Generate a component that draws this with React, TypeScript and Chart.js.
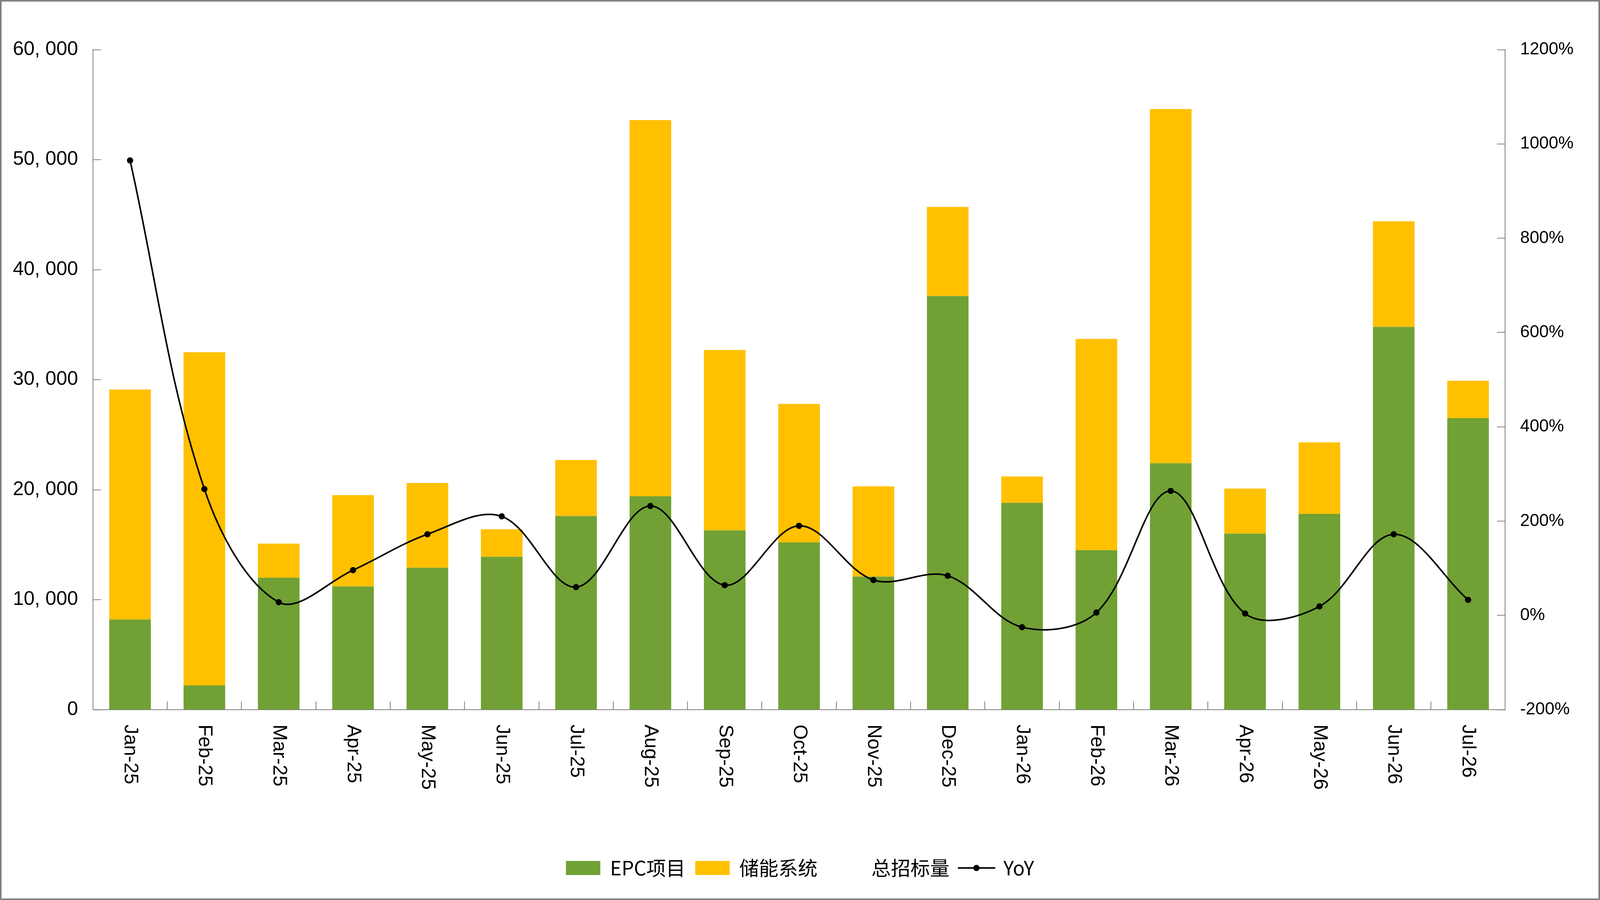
import React, { useEffect, useRef } from 'react';
import { Chart, registerables } from 'chart.js';

Chart.register(...registerables);

const categories = ['Jan-25', 'Feb-25', 'Mar-25', 'Apr-25', 'May-25', 'Jun-25', 'Jul-25', 'Aug-25', 'Sep-25', 'Oct-25', 'Nov-25', 'Dec-25', 'Jan-26', 'Feb-26', 'Mar-26', 'Apr-26', 'May-26', 'Jun-26', 'Jul-26'];
const epcValues = [8200, 2200, 12000, 11200, 12900, 13900, 17600, 19400, 16300, 15200, 12100, 37600, 18800, 14500, 22400, 16000, 17800, 34800, 26500];
const storageValues = [20900, 30300, 3100, 8300, 7700, 2500, 5100, 34200, 16400, 12600, 8200, 8100, 2400, 19200, 32200, 4100, 6500, 9600, 3400];
const totalValues = [29100, 32500, 15100, 19500, 20600, 16400, 22700, 53600, 32700, 27800, 20300, 45700, 21200, 33700, 54600, 20100, 24300, 44400, 29900];
const yoyValues = [965, 268, 28, 96, 172, 210, 60, 232, 64, 190, 75, 84, -25, 6, 264, 4, 19, 172, 33];
const leftTickLabels = ['0', '10, 000', '20, 000', '30, 000', '40, 000', '50, 000', '60, 000'];
const rightTickLabels = ['-200%', '0%', '200%', '400%', '600%', '800%', '1000%', '1200%'];
const seriesNames = ['EPC项目', '储能系统', '总招标量', 'YoY'];

const GREEN = '#71A135';
const YELLOW = '#FFC000';
const AXIS = '#808080';
const LATIN = '"Liberation Sans", Arial, sans-serif';
const CJK = '"Noto Sans CJK SC", "Noto Sans", sans-serif';
const REF_W = 4238;

function makeYoyLegendIcon(): HTMLCanvasElement {
  const c = document.createElement('canvas');
  c.width = 96;
  c.height = 20;
  const g = c.getContext('2d')!;
  g.strokeStyle = '#000';
  g.lineWidth = 4;
  g.beginPath();
  g.moveTo(0, 10);
  g.lineTo(96, 10);
  g.stroke();
  g.fillStyle = '#000';
  g.beginPath();
  g.arc(48, 10, 8, 0, Math.PI * 2);
  g.fill();
  return c;
}

const xLabelPlugin = {
  id: 'rotatedXLabels',
  afterDraw(chart: any) {
    const { ctx, chartArea, scales } = chart;
    const xs = scales.x;
    ctx.save();
    ctx.font = `50px ${LATIN}`;
    ctx.fillStyle = '#000';
    ctx.textAlign = 'left';
    ctx.textBaseline = 'middle';
    categories.forEach((label, i) => {
      const x = xs.getPixelForValue(i);
      ctx.save();
      ctx.translate(x, chartArea.bottom + 38);
      ctx.rotate(Math.PI / 2);
      ctx.fillText(label, 0, 0);
      ctx.restore();
    });
    ctx.restore();
  },
};

export default function App() {
  const canvasRef = useRef<HTMLCanvasElement | null>(null);

  useEffect(() => {
    if (!canvasRef.current) return;
    const yoyIcon = makeYoyLegendIcon();
    const sx = (scale: any) => (scale.chart.width + 8) / REF_W;
    const chart = new Chart(canvasRef.current, {
      type: 'bar',
      data: {
        labels: categories,
        datasets: [
          {
            type: 'bar',
            label: seriesNames[0],
            data: epcValues,
            backgroundColor: GREEN,
            yAxisID: 'y',
            stack: 'bars',
            barPercentage: 0.56,
            categoryPercentage: 1,
            order: 2,
          },
          {
            type: 'bar',
            label: seriesNames[1],
            data: storageValues,
            backgroundColor: YELLOW,
            yAxisID: 'y',
            stack: 'bars',
            barPercentage: 0.56,
            categoryPercentage: 1,
            order: 2,
          },
          {
            type: 'line',
            label: seriesNames[2],
            data: totalValues,
            yAxisID: 'y',
            stack: 'total',
            showLine: false,
            pointRadius: 0,
            borderColor: 'rgba(0,0,0,0)',
            backgroundColor: 'rgba(0,0,0,0)',
            order: 1,
          },
          {
            type: 'line',
            label: seriesNames[3],
            data: yoyValues,
            yAxisID: 'y1',
            borderColor: '#000',
            backgroundColor: '#000',
            borderWidth: 4,
            pointRadius: 8,
            pointBorderWidth: 0,
            pointBackgroundColor: '#000',
            tension: 0.35,
            order: 0,
          },
        ] as any,
      },
      options: {
        animation: false,
        responsive: true,
        maintainAspectRatio: false,
        layout: { padding: { left: 0, right: 0, top: 123, bottom: 43 } },
        plugins: {
          tooltip: { enabled: false },
          legend: {
            display: true,
            position: 'bottom',
            labels: {
              usePointStyle: true,
              pointStyleWidth: 88,
              boxHeight: 36,
              padding: 25,
              color: '#000',
              font: { size: 50, family: CJK },
              generateLabels: () => [
                { text: seriesNames[0], fillStyle: GREEN, strokeStyle: GREEN, lineWidth: 0, pointStyle: 'rect', hidden: false, datasetIndex: 0, fontColor: '#000' },
                { text: seriesNames[1], fillStyle: YELLOW, strokeStyle: YELLOW, lineWidth: 0, pointStyle: 'rect', hidden: false, datasetIndex: 1, fontColor: '#000' },
                { text: seriesNames[2], fillStyle: 'rgba(0,0,0,0)', strokeStyle: 'rgba(0,0,0,0)', lineWidth: 0, pointStyle: 'rect', hidden: false, datasetIndex: 2, fontColor: '#000' },
                { text: seriesNames[3], fillStyle: '#000', strokeStyle: '#000', lineWidth: 0, pointStyle: yoyIcon, hidden: false, datasetIndex: 3, fontColor: '#000' },
              ] as any,
            },
          },
        },
        scales: {
          x: {
            stacked: true,
            offset: true,
            grid: {
              display: true,
              offset: true,
              drawOnChartArea: false,
              drawTicks: true,
              tickLength: -21,
              tickColor: AXIS,
              tickWidth: 2,
              color: AXIS,
              lineWidth: 2,
            },
            border: { display: true, color: AXIS, width: 2 },
            ticks: { display: false },
            afterFit: (scale: any) => {
              scale.height = 355;
            },
          },
          y: {
            position: 'left',
            stacked: true,
            min: 0,
            max: 60000,
            grid: {
              drawOnChartArea: false,
              drawTicks: true,
              tickLength: -21,
              tickColor: AXIS,
              tickWidth: 2,
              color: AXIS,
            },
            border: { display: true, color: AXIS, width: 2 },
            ticks: {
              stepSize: 10000,
              padding: 59,
              color: '#000',
              font: { size: 50, family: LATIN },
              callback: (_v: any, i: number) => leftTickLabels[i],
            },
            afterFit: (scale: any) => {
              scale.width = 246 * sx(scale) - 4;
            },
          },
          y1: {
            position: 'right',
            min: -200,
            max: 1200,
            grid: {
              drawOnChartArea: false,
              drawTicks: true,
              tickLength: -21,
              tickColor: AXIS,
              tickWidth: 2,
              color: AXIS,
            },
            border: { display: true, color: AXIS, width: 2 },
            ticks: {
              stepSize: 200,
              padding: 59,
              color: '#000',
              font: { size: 44, family: LATIN },
              callback: (_v: any, i: number) => rightTickLabels[i],
            },
            afterFit: (scale: any) => {
              scale.width = (REF_W - 3987) * sx(scale) - 4;
            },
          },
        },
      } as any,
      plugins: [xLabelPlugin],
    });
    return () => chart.destroy();
  }, []);

  return (
    <div
      style={{
        position: 'fixed',
        left: 0,
        top: 0,
        width: '100vw',
        height: '100vh',
        boxSizing: 'border-box',
        border: `4px solid ${AXIS}`,
        background: '#fff',
      }}
    >
      <canvas ref={canvasRef} />
    </div>
  );
}
